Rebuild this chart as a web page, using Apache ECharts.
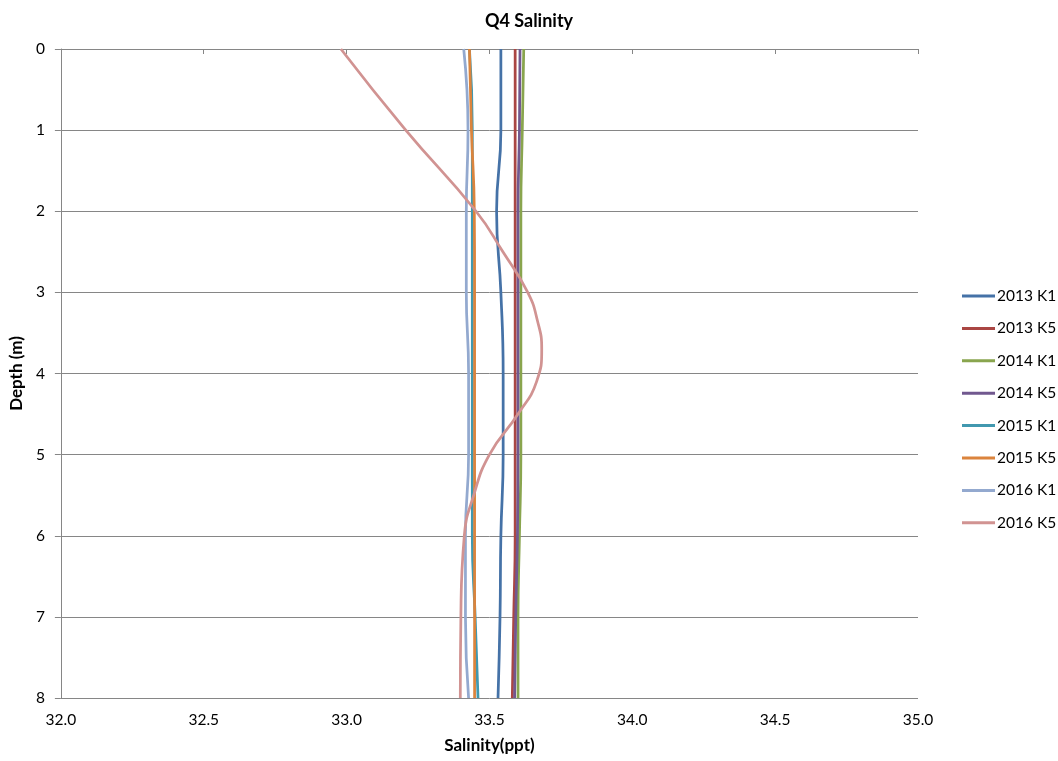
<!DOCTYPE html>
<html>
<head>
<meta charset="utf-8">
<title>Q4 Salinity</title>
<script src="https://cdn.jsdelivr.net/npm/echarts@6/dist/echarts.min.js"></script>
<style>
  html, body { margin: 0; padding: 0; background: #fff; }
  #graph1 { width: 1058px; height: 761px; }
</style>
</head>
<body>
<div id="graph1"></div>
<script>
/* 深度 (m) */
var depths = [0, 1, 2, 3, 4, 5, 6, 7, 8];
/* 2016 K5 读得更密的深度 */
var depths16K5 = [0, 1, 2, 2.5, 3, 3.35, 3.7, 4.1, 4.5, 5, 5.5, 6, 7, 8];
/* 图例 */
var names = ['2013 K1', '2013 K5', '2014 K1', '2014 K5', '2015 K1', '2015 K5', '2016 K1', '2016 K5'];
/* 盐度 (ppt) */
var s2013K1 = [33.54, 33.54, 33.525, 33.54, 33.548, 33.548, 33.54, 33.537, 33.53];
var s2013K5 = [33.59, 33.59, 33.59, 33.59, 33.59, 33.59, 33.59, 33.585, 33.58];
var s2014K1 = [33.62, 33.615, 33.61, 33.61, 33.61, 33.61, 33.605, 33.60, 33.60];
var s2014K5 = [33.607, 33.605, 33.60, 33.60, 33.60, 33.60, 33.598, 33.592, 33.588];
var s2015K1 = [33.43, 33.44, 33.44, 33.44, 33.44, 33.44, 33.44, 33.45, 33.46];
var s2015K5 = [33.43, 33.437, 33.447, 33.448, 33.448, 33.448, 33.448, 33.448, 33.448];
var s2016K1 = [33.41, 33.425, 33.419, 33.419, 33.427, 33.427, 33.416, 33.416, 33.427];
var s2016K5 = [32.98, 33.207, 33.453, 33.547, 33.634, 33.668, 33.683, 33.665, 33.60, 33.50, 33.445, 33.412, 33.40, 33.398];
var colors = ['#4572A7', '#AA4643', '#89A54E', '#71588F', '#4198AF', '#DB843D', '#93A9CF', '#D19392'];

profileChart(
  [s2013K1, s2013K5, s2014K1, s2014K5, s2015K1, s2015K5, s2016K1, s2016K5],
  [depths, depths, depths, depths, depths, depths, depths, depths16K5],
  'graph1'
);

/* 盐度剖面图 */
function profileChart(list, dlist, obj) {
  var myChart = echarts.init(document.getElementById(obj));
  var axisColor = '#868686';
  var font = 'Lato, "Open Sans", sans-serif';

  var series = [];
  for (var i in list) {
    /* 组合数组 [盐度, 深度] */
    var data = [];
    for (var j in dlist[i]) {
      data.push([list[i][j], dlist[i][j]]);
    }
    series.push({
      name: names[i],
      type: 'line',
      smooth: 0.5,
      showSymbol: false,
      data: data,
      lineStyle: {
        width: 2.75,
        color: colors[i]
      },
      itemStyle: {
        color: colors[i]
      }
    });
  }

  var option = {
    animation: false,
    textStyle: { fontFamily: font },
    title: {
      text: 'Q4 Salinity',
      left: 'center',
      top: 7,
      textStyle: {
        fontFamily: font,
        fontSize: 18,
        fontWeight: 'bold',
        color: '#000'
      }
    },
    legend: {
      orient: 'vertical',
      left: 957,
      top: 282,
      icon: 'rect',
      itemWidth: 33,
      itemHeight: 3,
      itemGap: 14.4,
      data: names,
      textStyle: {
        fontFamily: font,
        fontSize: 15.5,
        lineHeight: 18,
        color: '#000',
        padding: [0, 0, 0, -3]
      }
    },
    grid: {
      left: 57,
      right: 140,
      top: 49,
      bottom: 63,
      containLabel: false
    },
    xAxis: {
      type: 'value',
      min: 32,
      max: 35,
      interval: 0.5,
      name: 'Salinity(ppt)',
      nameLocation: 'middle',
      nameGap: 39,
      nameTextStyle: {
        fontFamily: font,
        fontSize: 17,
        fontWeight: 'bold',
        color: '#000'
      },
      axisLine: { show: true, lineStyle: { color: axisColor, width: 1 } },
      axisTick: { show: true, length: 5, lineStyle: { color: axisColor } },
      splitLine: { show: false },
      axisLabel: {
        margin: 14,
        fontSize: 15.5,
        color: '#000',
        formatter: function (v) { return v.toFixed(1); }
      }
    },
    yAxis: {
      type: 'value',
      inverse: true,
      min: 0,
      max: 8,
      interval: 1,
      name: 'Depth (m)',
      nameLocation: 'middle',
      nameGap: 32,
      nameTextStyle: {
        fontFamily: font,
        fontSize: 17,
        fontWeight: 'bold',
        color: '#000'
      },
      axisLine: { show: true, lineStyle: { color: axisColor, width: 1 } },
      axisTick: { show: true, length: 6, lineStyle: { color: axisColor } },
      splitLine: { show: true, lineStyle: { color: axisColor, width: 1 } },
      axisLabel: {
        margin: 16,
        fontSize: 15.5,
        color: '#000'
      }
    },
    series: series
  };
  myChart.setOption(option);
}
</script>
</body>
</html>
